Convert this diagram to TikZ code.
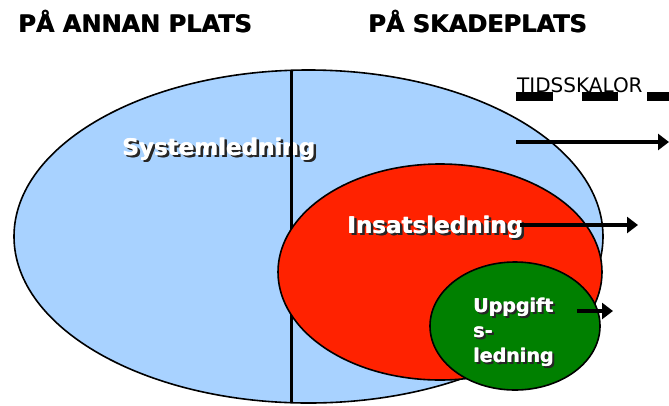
\documentclass[tikz,border=0pt]{standalone}
\usepackage{fontspec}
\setmainfont{DejaVu Sans}
\usetikzlibrary{arrows.meta}
\definecolor{skyb}{RGB}{168,210,255}
\definecolor{firered}{RGB}{255,34,0}
\definecolor{leafgreen}{RGB}{0,128,0}
\begin{document}
\begin{tikzpicture}[x=1pt,y=-1pt,
  outl/.style={draw=black,line width=1.6pt},
  head/.style={anchor=base west,inner sep=0,font=\bfseries\fontsize{24}{28}\selectfont},
  lbl/.style={anchor=base west,inner sep=0,font=\bfseries\fontsize{23}{27}\selectfont,text=white},
  shd/.style={anchor=base west,inner sep=0,font=\bfseries\fontsize{23}{27}\selectfont,text=black!85},
  slbl/.style={anchor=base west,inner sep=0,font=\bfseries\fontsize{19}{25}\selectfont,text=white},
  sshd/.style={anchor=base west,inner sep=0,font=\bfseries\fontsize{19}{25}\selectfont,text=black!85},
  tarrow/.style={line width=3.5pt,-{Triangle[length=11pt,width=16pt]}},
  bar/.style={fill=black,draw=none}
]
\useasboundingbox (0,0) rectangle (669,405);

% headings (drawn twice, slightly offset, for a heavier stroke)
\foreach \d [count=\i] in {0,0.7}{
  \node[head] (h1-\i) at (18+\d,32) {PÅ ANNAN PLATS};
  \node[head] (h2-\i) at (368+\d,32) {PÅ SKADEPLATS};
}

% time scale label
\node[anchor=base west,inner sep=0,font=\fontsize{20}{24}\selectfont] (ts) at (517,92) {TIDSSKALOR};
\fill[bar] (516,92) rectangle (553,101);
\fill[bar] (582,92) rectangle (618,101);
\fill[bar] (647,92) rectangle (669,101);

% system ellipse
\draw[outl,fill=skyb] (308.5,236.5) ellipse [x radius=294.5, y radius=166.5];
\foreach \d [count=\i] in {0,0.6}{
  \node[shd] (sysS-\i) at (124.5+\d,157.5) {Systemledning};
}
\foreach \d [count=\i] in {0,0.6}{
  \node[lbl] (sys-\i) at (122+\d,155) {Systemledning};
}

% divider
\coordinate (vtop) at (291,71);
\coordinate (vbot) at (291,403);
\draw[line width=3pt] (vtop) -- (vbot);

% insats ellipse
\draw[outl,fill=firered] (440,272) ellipse [x radius=162, y radius=108];
\foreach \d [count=\i] in {0,0.6}{
  \node[shd] (insS-\i) at (349.5+\d,235.5) {Insatsledning};
}
\foreach \d [count=\i] in {0,0.6}{
  \node[lbl] (ins-\i) at (347+\d,233) {Insatsledning};
}

% uppgift ellipse
\draw[outl,fill=leafgreen] (515,326) ellipse [x radius=85, y radius=64];
\foreach \d [count=\i] in {0,0.5}{
  \node[sshd] (u1s-\i) at (475+\d,314) {Uppgift};
  \node[sshd] (u2s-\i) at (475+\d,339) {s-};
  \node[sshd] (u3s-\i) at (475+\d,364) {ledning};
}
\foreach \d [count=\i] in {0,0.5}{
  \node[slbl] (u1-\i) at (473+\d,312) {Uppgift};
  \node[slbl] (u2-\i) at (473+\d,337) {s-};
  \node[slbl] (u3-\i) at (473+\d,362) {ledning};
}

% arrows
\coordinate (a1s) at (516,142);
\coordinate (a1e) at (669,142);
\coordinate (a2s) at (520,225);
\coordinate (a2e) at (638,225);
\coordinate (a3s) at (577,311);
\coordinate (a3e) at (613,311);
\draw[tarrow] (a1s) -- (a1e);
\draw[tarrow] (a2s) -- (a2e);
\draw[tarrow] (a3s) -- (a3e);
\end{tikzpicture}
\end{document}
